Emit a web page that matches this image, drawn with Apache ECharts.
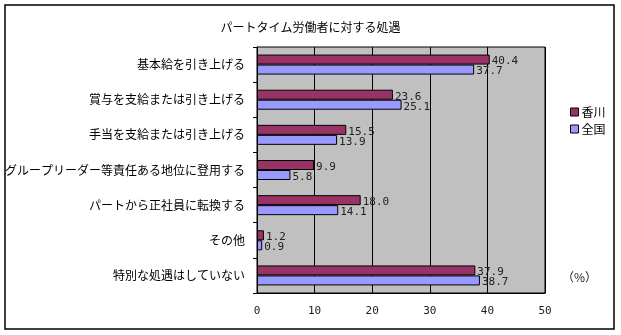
<!DOCTYPE html>
<html><head><meta charset="utf-8">
<script src="https://cdn.jsdelivr.net/npm/echarts@6/dist/echarts.min.js"></script>
<style>html,body{margin:0;padding:0;background:#fff}#c{width:621px;height:335px}</style>
</head><body><div id="c"></div>
<script>
const title = 'パートタイム労働者に対する処遇';
const categories = ['基本給を引き上げる','賞与を支給または引き上げる','手当を支給または引き上げる','グループリーダー等責任ある地位に登用する','パートから正社員に転換する','その他','特別な処遇はしていない'];
const seriesNames = ['香川','全国'];
const kagawa = [40.4, 23.6, 15.5, 9.9, 18.0, 1.2, 37.9];
const zenkoku = [37.7, 25.1, 13.9, 5.8, 14.1, 0.9, 38.7];
const xTicks = [0, 10, 20, 30, 40, 50];
const unitLabel = '（%）';
const colors = ['#993366', '#9999FF'];

const jp = '"Noto Sans CJK JP", sans-serif';
const mono = '"DejaVu Sans Mono", monospace';
const chart = echarts.init(document.getElementById('c'));
function mk(name, data, color) {
  return {
    name, type: 'bar', data, barWidth: 10, barGap: '0%',
    itemStyle: { color, borderColor: '#000', borderWidth: 1 },
    label: { show: true, position: 'right', distance: 2, offset: [0, 2],
      formatter: p => p.value.toFixed(1), fontFamily: mono, fontSize: 11, color: '#222' },
    animation: false
  };
}
chart.setOption({
  animation: false,
  title: { text: title, left: 'center', top: 16, textStyle: { fontFamily: jp, fontSize: 12, fontWeight: 'normal', color: '#000' } },
  grid: { left: 257, right: 76, top: 47, bottom: 42, show: true, backgroundColor: '#c0c0c0', borderColor: '#000', borderWidth: 1 },
  legend: { orient: 'vertical', left: 565, top: 101, itemWidth: 8, itemHeight: 8, itemGap: 5,
    icon: 'rect', textStyle: { fontFamily: jp, fontSize: 12, color: '#000', padding: [0,0,0,-2] },
    itemStyle: { borderColor: '#000', borderWidth: 1 }, data: seriesNames },
  xAxis: { type: 'value', min: xTicks[0], max: xTicks[xTicks.length-1], interval: 10,
    axisLine: { show: true, lineStyle: { color: '#000' } }, axisTick: { show: false },
    splitLine: { show: true, lineStyle: { color: '#000', width: 1 } },
    axisLabel: { margin: 13, fontFamily: mono, fontSize: 11, color: '#222' } },
  yAxis: { type: 'category', data: categories, inverse: true,
    axisLine: { show: true, lineStyle: { color: '#000' } },
    axisTick: { show: true, length: 4, lineStyle: { color: '#000' } },
    axisLabel: { margin: 12, fontFamily: jp, fontSize: 12, color: '#000' } },
  series: [mk(seriesNames[0], kagawa, colors[0]), mk(seriesNames[1], zenkoku, colors[1])],
  graphic: [
    { type: 'rect', shape: { x: 5, y: 5, width: 609, height: 324 }, style: { fill: 'none', stroke: '#000', lineWidth: 1.5 }, silent: true },
    { type: 'text', left: 562, top: 271, style: { text: unitLabel, font: '12px ' + jp, fill: '#222' } }
  ]
});
</script></body></html>
